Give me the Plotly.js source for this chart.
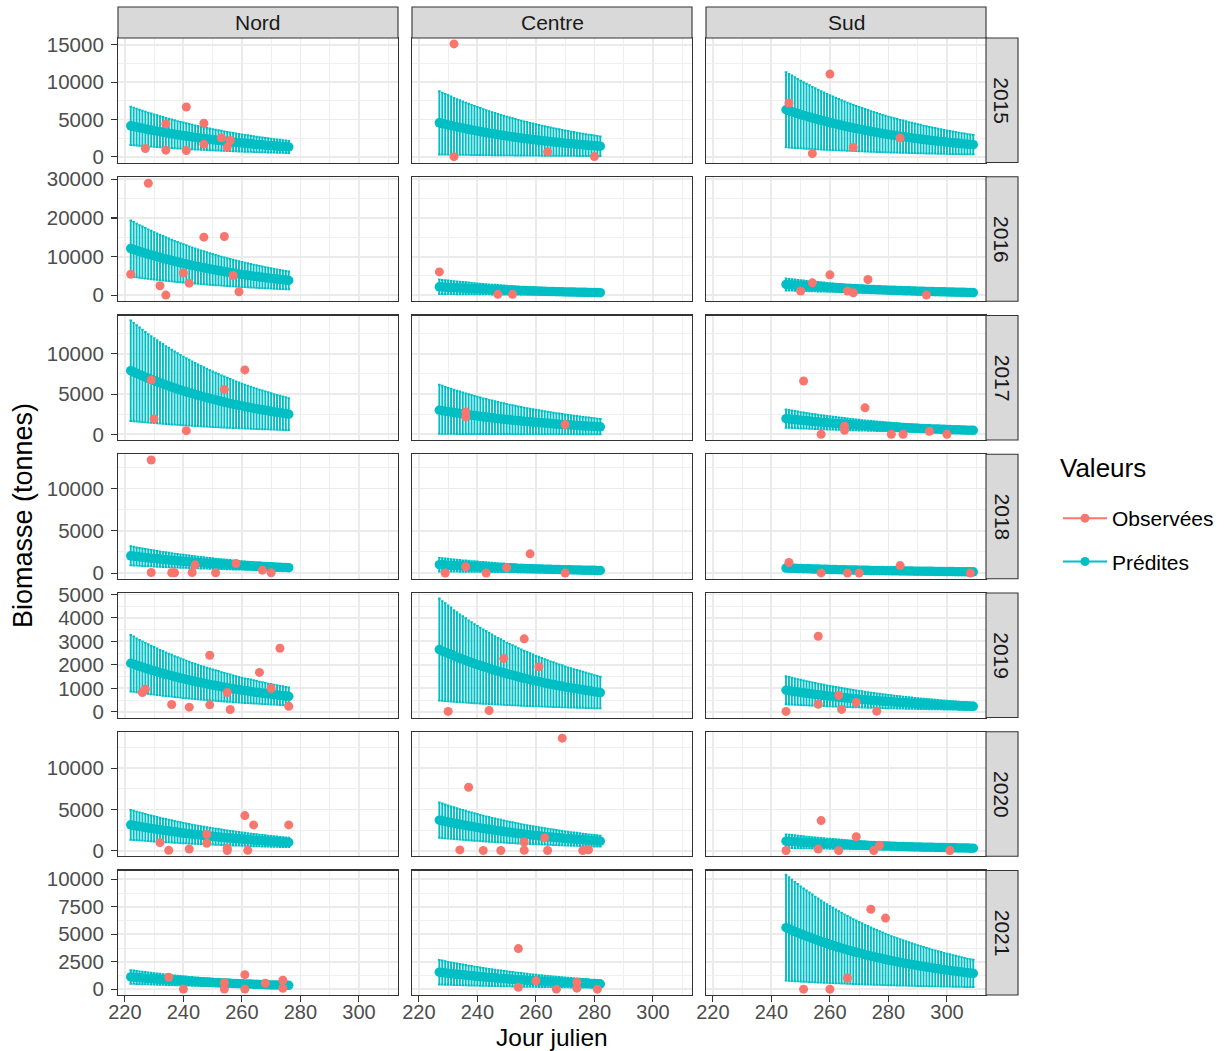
<!DOCTYPE html>
<html>
<head>
<meta charset="utf-8">
<script src="https://cdn.plot.ly/plotly-3.0.1.min.js"></script>
<style>
  body { margin: 0; background: #fff; }
  #chart { width: 1227px; height: 1051px; }
</style>
</head>
<body>
<div id="chart"></div>
<script>
// facets : columns = sites, rows = years
const sites = ['Nord', 'Centre', 'Sud'];
const years = ['2015', '2016', '2017', '2018', '2019', '2020', '2021'];

// first julian day of the daily predictions, per site
const predFirstDay = [222, 227, 245];

// predicted biomass (tonnes), one value per day, one list per year
const predNord = [
    [4150,4060,3980,3890,3810,3730,3650,3580,3500,3430,3360,3290,3220,3150,3080,3020,2950,2890,2830,2770,2710,2660,2600,2540,2490,2440,2390,2340,2290,2240,2200,2150,2100,2060,2020,1970,1930,1890,1850,1810,1780,1740,1700,1660,1630,1600,1560,1530,1500,1460,1440,1410,1380,1350,1320],
    [12100,11850,11590,11350,11120,10880,10650,10430,10210,9990,9790,9580,9380,9180,8990,8800,8620,8430,8250,8080,7910,7740,7590,7420,7260,7110,6970,6810,6680,6530,6400,6260,6130,6000,5880,5750,5630,5520,5400,5290,5180,5070,4960,4850,4760,4660,4560,4470,4370,4270,4190,4100,4020,3930,3850],
    [7900,7730,7570,7410,7260,7100,6950,6810,6670,6530,6390,6260,6120,6000,5870,5740,5620,5510,5390,5280,5170,5060,4950,4840,4740,4650,4550,4450,4360,4270,4180,4080,4010,3920,3840,3750,3670,3600,3520,3450,3380,3310,3240,3170,3100,3040,2980,2920,2850,2790,2730,2680,2620,2570,2510],
    [2050,2010,1960,1920,1880,1840,1800,1770,1730,1690,1660,1620,1590,1560,1520,1490,1460,1430,1400,1370,1340,1310,1290,1260,1230,1210,1180,1150,1130,1110,1080,1060,1040,1020,1000,970,950,930,910,900,880,860,840,820,810,790,770,760,740,720,710,690,680,670,650],
    [2070,2030,1980,1940,1900,1860,1820,1780,1750,1710,1670,1640,1600,1570,1540,1500,1470,1440,1410,1380,1350,1320,1300,1270,1240,1220,1190,1170,1140,1120,1100,1070,1050,1030,1010,980,960,940,920,900,890,870,850,830,810,800,780,760,750,730,720,700,690,670,660],
    [3130,3060,3000,2940,2880,2810,2750,2700,2640,2590,2530,2480,2430,2380,2330,2280,2230,2180,2130,2090,2050,2000,1960,1920,1880,1840,1800,1760,1730,1690,1660,1620,1590,1550,1520,1490,1460,1430,1400,1370,1340,1310,1280,1260,1230,1210,1180,1150,1130,1100,1080,1060,1040,1020,1000],
    [1120,1100,1070,1050,1030,1010,990,970,950,930,910,890,870,850,830,810,800,780,760,750,730,720,700,690,670,660,650,630,620,600,590,580,570,560,540,530,520,510,500,490,480,470,460,450,440,430,420,410,400,400,390,380,370,360,360]
];
const predCentre = [
    [4550,4450,4360,4270,4180,4090,4000,3920,3840,3760,3680,3600,3530,3450,3380,3310,3240,3170,3100,3040,2980,2910,2850,2790,2730,2680,2620,2560,2510,2460,2410,2350,2310,2260,2210,2160,2120,2070,2030,1990,1950,1910,1870,1820,1790,1750,1720,1680,1640,1610,1570,1540,1510,1480,1450,1420],
    [2200,2150,2110,2060,2020,1980,1940,1900,1860,1820,1780,1740,1710,1670,1630,1600,1570,1530,1500,1470,1440,1410,1380,1350,1320,1290,1270,1240,1210,1190,1160,1140,1120,1090,1070,1050,1020,1000,980,960,940,920,900,880,860,850,830,810,790,780,760,750,730,720,700,680],
    [3000,2940,2870,2810,2760,2700,2640,2590,2530,2480,2430,2380,2330,2280,2230,2180,2140,2090,2050,2000,1960,1920,1880,1840,1800,1760,1730,1690,1660,1620,1590,1550,1520,1490,1460,1430,1400,1370,1340,1310,1280,1260,1230,1200,1180,1160,1130,1110,1080,1060,1040,1020,1000,980,950,930],
    [1000,980,960,940,920,900,880,860,840,830,810,790,780,760,740,730,710,700,680,670,650,640,630,610,600,590,580,560,550,540,530,520,510,500,490,480,470,460,450,440,430,420,410,400,390,390,380,370,360,350,350,340,330,330,320,310],
    [2650,2590,2540,2490,2440,2380,2330,2280,2240,2190,2140,2100,2050,2010,1970,1930,1890,1850,1810,1770,1730,1700,1660,1620,1590,1560,1530,1490,1460,1430,1400,1370,1340,1310,1290,1260,1230,1210,1180,1160,1130,1110,1090,1060,1040,1020,1000,980,960,940,920,900,880,860,840,820],
    [3700,3620,3540,3470,3400,3330,3260,3190,3120,3060,2990,2930,2870,2810,2750,2690,2630,2580,2520,2470,2420,2370,2320,2270,2220,2180,2130,2080,2040,2000,1960,1910,1880,1840,1800,1760,1720,1690,1650,1620,1580,1550,1520,1480,1450,1420,1400,1370,1340,1310,1280,1250,1230,1200,1180,1150],
    [1550,1520,1480,1450,1420,1390,1360,1340,1310,1280,1250,1230,1200,1180,1150,1130,1100,1080,1060,1040,1010,990,970,950,930,910,890,870,860,840,820,800,790,770,750,740,720,710,690,680,660,650,640,620,610,600,580,570,560,550,540,530,510,500,490,480]
];
const predSud = [
    [6300,6170,6040,5910,5790,5660,5540,5430,5320,5200,5100,4990,4880,4780,4680,4580,4490,4390,4300,4210,4120,4030,3950,3860,3780,3700,3630,3550,3480,3400,3330,3260,3190,3120,3060,2990,2930,2870,2810,2750,2700,2640,2580,2530,2480,2430,2380,2320,2270,2220,2180,2140,2090,2050,2000,1960,1920,1880,1840,1800,1760,1730,1690,1660,1620],
    [2800,2740,2680,2630,2570,2520,2460,2410,2360,2310,2270,2220,2170,2130,2080,2040,1990,1950,1910,1870,1830,1790,1760,1720,1680,1650,1610,1580,1550,1510,1480,1450,1420,1390,1360,1330,1300,1280,1250,1220,1200,1170,1150,1120,1100,1080,1060,1030,1010,990,970,950,930,910,890,870,850,830,820,800,780,770,750,740,720],
    [1950,1910,1870,1830,1790,1750,1720,1680,1650,1610,1580,1540,1510,1480,1450,1420,1390,1360,1330,1300,1280,1250,1220,1200,1170,1150,1120,1100,1080,1050,1030,1010,990,970,950,930,910,890,870,850,830,820,800,780,770,750,740,720,700,690,670,660,650,630,620,610,590,580,570,560,550,530,520,510,500],
    [600,587,575,563,551,539,528,517,506,496,485,475,465,455,446,436,427,418,409,401,392,384,376,368,360,353,346,338,331,324,317,310,304,298,292,285,279,274,268,262,257,251,246,241,236,231,226,221,217,212,208,203,199,195,191,187,183,179,175,172,168,164,161,158,154],
    [920,901,881,863,845,827,810,793,776,760,744,729,713,698,684,669,655,641,627,615,602,589,577,564,552,541,530,518,508,497,487,476,466,456,447,437,428,420,410,402,394,385,377,369,362,354,347,339,332,325,318,312,305,299,293,286,281,274,269,263,258,252,247,242,236],
    [1150,1130,1100,1080,1060,1030,1010,990,970,950,930,910,890,870,850,840,820,800,780,770,750,740,720,700,690,680,660,650,630,620,610,590,580,570,560,550,530,520,510,500,490,480,470,460,450,440,430,420,420,410,400,390,380,370,370,360,350,340,340,330,320,320,310,300,300],
    [5600,5480,5360,5250,5150,5030,4930,4830,4730,4630,4530,4440,4340,4250,4160,4070,3990,3900,3820,3740,3660,3580,3510,3430,3360,3290,3230,3150,3090,3020,2960,2900,2840,2780,2720,2660,2600,2550,2500,2450,2400,2350,2300,2250,2200,2160,2110,2070,2020,1980,1940,1900,1860,1820,1780,1740,1710,1670,1640,1600,1570,1530,1500,1470,1440]
];

// prediction interval, in % of the predicted value (up / down), per year
const errUpNord     = [62, 60, 79, 55, 58, 58, 55];
const errDownNord   = [62, 60, 79, 55, 58, 58, 55];
const errUpCentre   = [93, 85, 105, 80, 82, 58, 72];
const errDownCentre = [93, 85, 98, 80, 82, 58, 72];
const errUpSud      = [80, 55, 58, 50, 65, 72, 86];
const errDownSud    = [80, 55, 58, 50, 65, 72, 86];

// observed biomass : julian days and values, one list per year
const obsDayNord = [
    [227, 234, 234, 241, 241, 247, 247, 253, 256, 255],
    [222, 228, 232, 234, 240, 242, 247, 254, 257, 259],
    [229, 230, 241, 254, 261],
    [229, 229, 236, 237, 243, 244, 251, 258, 267, 270],
    [226, 227, 236, 242, 249, 249, 255, 256, 266, 270, 273, 276],
    [232, 235, 242, 248, 248, 255, 255, 261, 262, 264, 276],
    [235, 240, 254, 254, 261, 261, 268, 274, 274]
];
const obsValNord = [
    [1120, 4400, 890, 6670, 850, 4490, 1690, 2530, 2180, 1290],
    [5460, 28970, 2470, 50, 5800, 3150, 15030, 15200, 5120, 930],
    [6750, 1920, 460, 5580, 8000],
    [13380, 80, 40, 40, 80, 980, 40, 1140, 350, 40],
    [825, 965, 315, 200, 2410, 300, 825, 100, 1680, 995, 2710, 240],
    [970, 30, 200, 1990, 900, 290, 10, 4250, 30, 3120, 3120],
    [1090, 20, 600, 20, 1330, 20, 545, 820, 90]
];
const obsDayCentre = [
    [232, 232, 264, 280],
    [227, 247, 252],
    [236, 236, 270],
    [229, 236, 243, 250, 258, 270],
    [230, 244, 249, 256, 261],
    [234, 237, 242, 248, 256, 256, 263, 264, 269, 276, 278],
    [254, 254, 260, 267, 274, 274, 281]
];
const obsValCentre = [
    [15110, 20, 670, 30],
    [6050, 250, 250],
    [2790, 2170, 1210],
    [20, 760, 20, 640, 2280, 20],
    [20, 60, 2270, 3110, 1920],
    [85, 7700, 10, 20, 1040, 40, 1570, 20, 13660, 0, 100],
    [3700, 180, 770, 10, 650, 100, 10]
];
const obsDaySud = [
    [246, 254, 260, 268, 284],
    [250, 254, 260, 266, 268, 273, 293],
    [251, 257, 265, 265, 272, 281, 285, 294, 300],
    [246, 257, 266, 270, 284, 308],
    [245, 256, 256, 263, 264, 269, 276],
    [245, 256, 257, 263, 269, 275, 277, 301],
    [251, 260, 266, 274, 279]
];
const obsValSud = [
    [7200, 450, 11070, 1250, 2530],
    [1100, 3230, 5290, 1100, 670, 4100, 80],
    [6625, 20, 1000, 500, 3290, 20, 20, 375, 20],
    [1260, 30, 20, 20, 890, 20],
    [20, 3220, 325, 700, 105, 400, 30],
    [10, 200, 3650, 10, 1690, 20, 640, 10],
    [10, 10, 1030, 7280, 6470]
];

const pred = [predNord, predCentre, predSud];
const errUp = [errUpNord, errUpCentre, errUpSud];
const errDown = [errDownNord, errDownCentre, errDownSud];
const obsDay = [obsDayNord, obsDayCentre, obsDaySud];
const obsVal = [obsValNord, obsValCentre, obsValSud];

const colObs = '#F8766D';
const colPred = '#00BFC4';
const font = 'Liberation Sans, Arial, sans-serif';

// page geometry (pixels)
const W = 1227, H = 1051;
const colLeft = [118, 412, 706], colW = 280;
const rowTop = [38, 176.8, 315.5, 454.3, 593, 731.8, 870.5], rowH = 124.5;
const yRanges = [[-760, 15900], [-1550, 30650], [-700, 14750], [-670, 14050],
                 [-240, 5060], [-690, 14430], [-520, 10800]];
const yDtick = [5000, 10000, 5000, 5000, 1000, 5000, 2500];

let data = [];
let layout = {
    width: W, height: H,
    margin: {l: 0, r: 0, t: 0, b: 0},
    paper_bgcolor: '#fff', plot_bgcolor: '#fff',
    font: {family: font, color: '#1A1A1A'},
    showlegend: true,
    legend: {
        x: 1058 / W, y: 1 - 498 / H, xanchor: 'left', yanchor: 'top',
        font: {size: 21, color: '#000'},
        itemwidth: 44, tracegroupgap: 13, bgcolor: 'rgba(0,0,0,0)'
    },
    shapes: [],
    annotations: []
};

years.forEach(function (yr, r) {
    sites.forEach(function (site, c) {
        let k = r * 3 + c + 1;
        let xa = k === 1 ? 'x' : 'x' + k;
        let ya = k === 1 ? 'y' : 'y' + k;

        let days = pred[c][r].map(function (v, i) { return predFirstDay[c] + i; });
        data.push({
            x: days, y: pred[c][r], type: 'scatter', mode: 'markers',
            xaxis: xa, yaxis: ya, showlegend: false, hoverinfo: 'skip',
            marker: {size: 9.5, color: colPred},
            error_y: {type: 'percent', symmetric: false, value: errUp[c][r], valueminus: errDown[c][r],
                      color: colPred, thickness: 1.9, width: 1.3}
        });
        data.push({
            x: obsDay[c][r], y: obsVal[c][r], type: 'scatter', mode: 'markers',
            xaxis: xa, yaxis: ya, showlegend: false, hoverinfo: 'skip',
            marker: {size: 9, color: colObs}
        });

        let bottom = r === years.length - 1, left = c === 0;
        layout['xaxis' + (k === 1 ? '' : k)] = {
            domain: [colLeft[c] / W, (colLeft[c] + colW) / W],
            anchor: ya, range: [217.65, 313.35],
            tick0: 220, dtick: 20, showticklabels: bottom,
            ticks: bottom ? 'outside' : '', ticklen: 6, tickwidth: 1.1, tickcolor: '#333333',
            ticklabelstandoff: -7,
            tickfont: {family: font, size: 20, color: '#4D4D4D'},
            showgrid: true, gridcolor: '#EBEBEB', gridwidth: 1.8,
            minor: {tick0: 210, dtick: 20, showgrid: true, gridcolor: '#EFEFEF', gridwidth: 1},
            showline: true, mirror: true, linecolor: '#333333', linewidth: 1.1,
            zeroline: false, fixedrange: true
        };
        layout['yaxis' + (k === 1 ? '' : k)] = {
            domain: [1 - (rowTop[r] + rowH) / H, 1 - rowTop[r] / H],
            anchor: xa, range: yRanges[r],
            tick0: 0, dtick: yDtick[r], tickformat: 'd', showticklabels: left,
            ticks: left ? 'outside' : '', ticklen: 6, tickwidth: 1.1, tickcolor: '#333333',
            ticklabelstandoff: 3,
            tickfont: {family: font, size: 20.5, color: '#4D4D4D'},
            showgrid: true, gridcolor: '#EBEBEB', gridwidth: 1.8,
            minor: {tick0: yDtick[r] / 2, dtick: yDtick[r], showgrid: true, gridcolor: '#EFEFEF', gridwidth: 1},
            showline: true, mirror: true, linecolor: '#333333', linewidth: 1.1,
            zeroline: false, fixedrange: true
        };
    });
});

// legend entries
data.push({x: [null], y: [null], type: 'scatter', mode: 'lines+markers', name: 'Observées',
           legendgroup: 'obs', line: {color: colObs, width: 2}, marker: {size: 9, color: colObs}});
data.push({x: [null], y: [null], type: 'scatter', mode: 'lines+markers', name: 'Prédites',
           legendgroup: 'pred', line: {color: colPred, width: 2}, marker: {size: 9, color: colPred}});

// legend title
layout.annotations.push({text: 'Valeurs', xref: 'paper', yref: 'paper', showarrow: false,
    x: 1058 / W, y: 1 - 468 / H, xanchor: 'left', yanchor: 'middle',
    font: {size: 26, color: '#000'}});

// facet strips
sites.forEach(function (site, c) {
    layout.shapes.push({type: 'rect', xref: 'paper', yref: 'paper',
        x0: colLeft[c] / W, x1: (colLeft[c] + colW) / W, y0: 1 - 38 / H, y1: 1 - 7 / H,
        fillcolor: '#D9D9D9', line: {color: '#333333', width: 1.1}});
    layout.annotations.push({text: site, xref: 'paper', yref: 'paper', showarrow: false,
        x: (colLeft[c] + colW / 2) / W, y: 1 - 22.5 / H, xanchor: 'center', yanchor: 'middle',
        font: {size: 21, color: '#1A1A1A'}});
});
years.forEach(function (yr, r) {
    layout.shapes.push({type: 'rect', xref: 'paper', yref: 'paper',
        x0: 986 / W, x1: 1018 / W, y0: 1 - (rowTop[r] + rowH) / H, y1: 1 - rowTop[r] / H,
        fillcolor: '#D9D9D9', line: {color: '#333333', width: 1.1}});
    layout.annotations.push({text: yr, xref: 'paper', yref: 'paper', showarrow: false,
        x: 1002 / W, y: 1 - (rowTop[r] + rowH / 2) / H, xanchor: 'center', yanchor: 'middle',
        textangle: 90, font: {size: 21, color: '#1A1A1A'}});
});

// axis titles
layout.annotations.push({text: 'Jour julien', xref: 'paper', yref: 'paper', showarrow: false,
    x: 552 / W, y: 1 - 1037 / H, xanchor: 'center', yanchor: 'middle',
    font: {size: 24.5, color: '#000'}});
layout.annotations.push({text: 'Biomasse (tonnes)', xref: 'paper', yref: 'paper', showarrow: false,
    x: 23 / W, y: 1 - 516 / H, xanchor: 'center', yanchor: 'middle', textangle: -90,
    font: {size: 27, color: '#000'}});

Plotly.newPlot('chart', data, layout, {displayModeBar: false, staticPlot: true});
</script>
</body>
</html>
